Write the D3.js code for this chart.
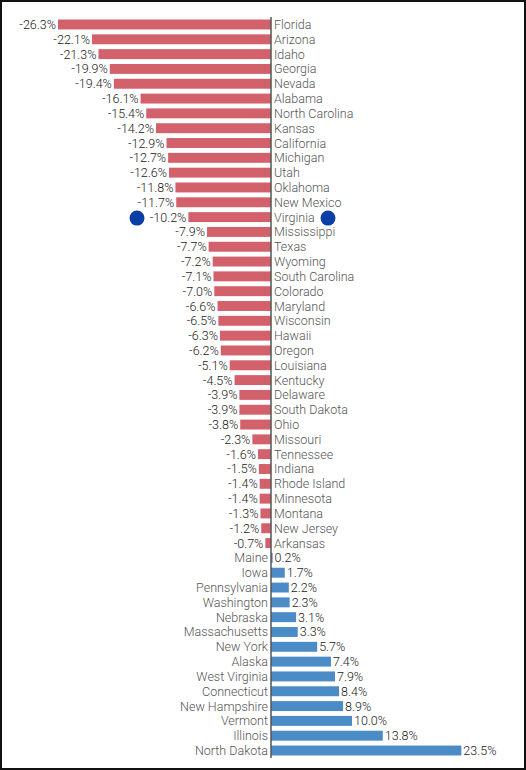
<!DOCTYPE html>
<html>
<head>
<meta charset="utf-8">
<script src="https://cdn.jsdelivr.net/npm/d3@7"></script>
<style>
  body { margin: 0; background: #fff; }
  svg { display: block; }
</style>
</head>
<body>
<div id="chart"></div>
<script>
// states top to bottom, with the change in %
const states = ["Florida", "Arizona", "Idaho", "Georgia", "Nevada", "Alabama", "North Carolina",
    "Kansas", "California", "Michigan", "Utah", "Oklahoma", "New Mexico", "Virginia", "Mississippi",
    "Texas", "Wyoming", "South Carolina", "Colorado", "Maryland", "Wisconsin", "Hawaii", "Oregon",
    "Louisiana", "Kentucky", "Delaware", "South Dakota", "Ohio", "Missouri", "Tennessee", "Indiana",
    "Rhode Island", "Minnesota", "Montana", "New Jersey", "Arkansas", "Maine", "Iowa", "Pennsylvania",
    "Washington", "Nebraska", "Massachusetts", "New York", "Alaska", "West Virginia", "Connecticut",
    "New Hampshire", "Vermont", "Illinois", "North Dakota"];
const values = [-26.3, -22.1, -21.3, -19.9, -19.4, -16.1, -15.4,
    -14.2, -12.9, -12.7, -12.6, -11.8, -11.7, -10.2, -7.9,
    -7.7, -7.2, -7.1, -7.0, -6.6, -6.5, -6.3, -6.2,
    -5.1, -4.5, -3.9, -3.9, -3.8, -2.3, -1.6, -1.5,
    -1.4, -1.4, -1.3, -1.2, -0.7, 0.2, 1.7, 2.2,
    2.3, 3.1, 3.3, 5.7, 7.4, 7.9, 8.4,
    8.9, 10.0, 13.8, 23.5];
// marked row (the two blue dots)
const markedState = "Virginia";

const width = 526;
const height = 770;

const data = states.map((s, i) => ({ state: s, value: values[i] }));

const svg = d3.select("#chart")
    .append("svg")
    .attr("width", width)
    .attr("height", height);

// frame
svg.append("rect")
    .attr("x", 1).attr("y", 1)
    .attr("width", width - 2).attr("height", height - 2)
    .attr("fill", "#fff")
    .attr("stroke", "#111")
    .attr("stroke-width", 2);

const x = d3.scaleLinear()
    .domain([-30, 30])
    .range([271 - 243, 271 + 243]);

const y = d3.scaleBand()
    .domain(states)
    .range([17, 758])
    .paddingInner(0.33)
    .paddingOuter(0.17);

const font = "Roboto, 'Liberation Sans', sans-serif";

svg.selectAll("rect.bar")
    .data(data)
    .enter()
    .append("rect")
    .attr("class", "bar")
    .attr("x", d => x(Math.min(0, d.value)))
    .attr("y", d => y(d.state))
    .attr("width", d => Math.abs(x(d.value) - x(0)))
    .attr("height", y.bandwidth())
    .attr("fill", d => d.value < 0 ? "#d2616b" : "#4b8bc6");

// value labels at bar ends (plain hyphen, like the original)
svg.selectAll("text.val")
    .data(data)
    .enter()
    .append("text")
    .attr("class", "val")
    .attr("x", d => d.value < 0 ? x(d.value) - 2 : x(d.value) + 2)
    .attr("y", d => y(d.state) + y.bandwidth() / 2)
    .attr("dy", "0.36em")
    .attr("text-anchor", d => d.value < 0 ? "end" : "start")
    .style("font-family", font)
    .style("font-size", "12.5px")
    .style("font-weight", 300)
    .style("fill", "#222")
    .text(d => d.value.toFixed(1) + "%");

// state names on the other side of the axis
svg.selectAll("text.state")
    .data(data)
    .enter()
    .append("text")
    .attr("class", "state")
    .attr("x", d => d.value < 0 ? x(0) + 3 : x(0) - 3)
    .attr("y", d => y(d.state) + y.bandwidth() / 2)
    .attr("dy", "0.36em")
    .attr("text-anchor", d => d.value < 0 ? "start" : "end")
    .style("font-family", font)
    .style("font-size", "12.5px")
    .style("font-weight", 300)
    .style("fill", "#555")
    .text(d => d.state);

// centre axis
svg.append("line")
    .attr("x1", x(0)).attr("x2", x(0))
    .attr("y1", 17).attr("y2", 758)
    .attr("stroke", "#555")
    .attr("stroke-width", 1.5);

// blue markers
const markY = y(markedState) + y.bandwidth() / 2 + 1;
svg.selectAll("circle.mark")
    .data([137, 328])
    .enter()
    .append("circle")
    .attr("class", "mark")
    .attr("cx", d => d)
    .attr("cy", markY)
    .attr("r", 7.5)
    .attr("fill", "#0b3fa6");
</script>
</body>
</html>
